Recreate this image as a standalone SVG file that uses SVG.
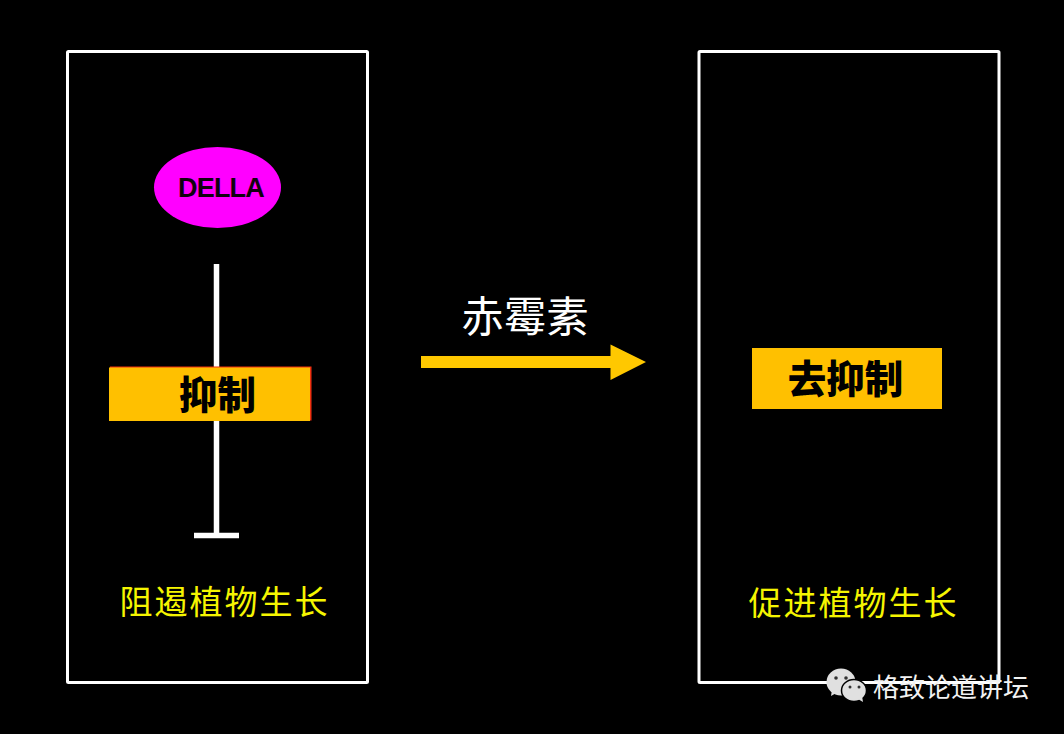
<svg xmlns="http://www.w3.org/2000/svg" width="1064" height="734" viewBox="0 0 1064 734">
<style>
text{font-family:"Noto Sans CJK SC","Liberation Sans",sans-serif;text-anchor:middle}
.panel{fill:none;stroke:#fff;stroke-width:3}
.label{fill:#f5f500;font-size:33px;letter-spacing:2px}
.box{fill:#ffc000}
.bold{fill:#000;font-weight:900;font-size:38.500px}
</style>
<rect width="1064" height="734" fill="#000"/>
<g id="panel-left"><rect class="panel" x="67.500" y="51.500" width="300" height="631" rx="1"/></g>
<g id="panel-right"><rect class="panel" x="699" y="51.500" width="300" height="631" rx="1"/></g>
<g id="connectors">
<path d="M216.500 264V535" fill="none" stroke="#fff" stroke-width="5.500"/>
<path d="M194 535.500H239" fill="none" stroke="#fff" stroke-width="5.500"/>
<polygon points="421,356 610.500,356 610.500,344.500 646,362 610.500,380 610.500,368 421,368" fill="#ffc800"/>
</g>
<g id="della"><ellipse cx="217.500" cy="187.500" rx="63.500" ry="40.500" fill="#ff00ff"/>
<text x="221" y="196.500" style="font-family:'Liberation Sans',sans-serif;font-weight:700;font-size:27px;letter-spacing:-.8px" fill="#12000f">DELLA</text></g>
<g id="inhibit"><rect x="110" y="366.500" width="201.500" height="54" fill="#f03010"/><rect class="box" x="109" y="367.500" width="201" height="53.500"/>
<text class="bold" x="217.500" y="409">抑制</text></g>
<g id="gibberellin"><text x="525" y="332" fill="#fff" font-size="42.500">赤霉素</text></g>
<g id="derepress"><rect class="box" x="752" y="348" width="190" height="61"/>
<text class="bold" x="845.500" y="393">去抑制</text></g>
<g id="label-left"><text class="label" x="224.500" y="614">阻遏植物生长</text></g>
<g id="label-right"><text class="label" x="853.500" y="615">促进植物生长</text></g>
<g id="watermark">
<ellipse cx="841" cy="682" rx="14.500" ry="13.500" fill="#e0e0e0"/><path d="M832 690l-1 6 7-4z" fill="#e0e0e0"/>
<ellipse cx="854" cy="690.500" rx="12.500" ry="11" fill="#e0e0e0" stroke="#000" stroke-width="1.500"/><path d="M858 699l5 3-1-6z" fill="#e0e0e0"/>
<circle cx="836" cy="678" r="1.800" fill="#333"/><circle cx="846" cy="678" r="1.800" fill="#333"/><circle cx="850" cy="687" r="1.500" fill="#333"/><circle cx="859" cy="687" r="1.500" fill="#333"/>
<text x="951" y="697" fill="#f2f2f2" font-size="26">格致论道讲坛</text></g>
</svg>
